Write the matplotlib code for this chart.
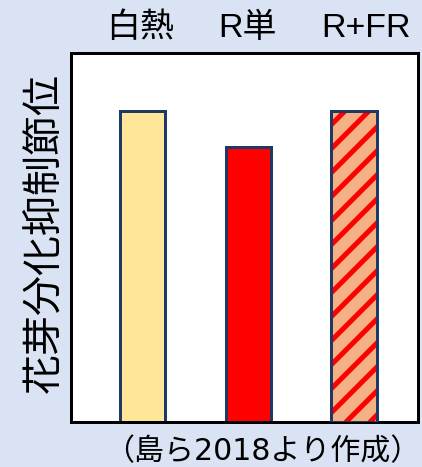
import matplotlib
matplotlib.use("Agg")
import matplotlib.pyplot as plt
from matplotlib.transforms import ScaledTranslation

plt.rcParams['font.family'] = ['Liberation Sans', 'Noto Sans CJK JP', 'DejaVu Sans']
plt.rcParams['hatch.linewidth'] = 5.0

categories = ["白熱", "R単", "R+FR"]
values = [8.44, 7.44, 8.44]
ylabel = "花芽分化抑制節位"
source = "（島ら2018より作成）"

bg = "#DAE3F3"
face_colors = ["#FFE699", "#FF0000", "#F4B183"]
edge_navy = "#1F3864"
label_shift_px = [-2, -1, 12]

DPI = 72
fig = plt.figure(figsize=(422 / DPI, 467 / DPI), dpi=DPI, facecolor=bg)
ax = fig.add_axes([71 / 422, 1 - 422 / 467, (418 - 71) / 422, (422 - 53) / 467])
ax.set_facecolor("white")

x = list(range(len(categories)))
width = 0.43
ax.bar(x[:2], values[:2], width=width, color=face_colors[:2],
       edgecolor=edge_navy, linewidth=3, zorder=2)
ax.bar(x[2], values[2], width=width, color=face_colors[2],
       edgecolor="#FF0000", hatch="/", linewidth=0, zorder=2)
ax.bar(x[2], values[2], width=width, color="none",
       edgecolor=edge_navy, linewidth=3, zorder=3)

ax.set_xlim(-0.676, 2.605)
ax.set_ylim(0, 10)
ax.set_yticks([])
ax.set_xticks(x)
ax.set_xticklabels(categories, fontsize=34)
ax.xaxis.tick_top()
ax.tick_params(axis='x', length=0, pad=9)
for lbl, dx in zip(ax.get_xticklabels(), label_shift_px):
    lbl.set_transform(lbl.get_transform() + ScaledTranslation(dx / DPI, 0, fig.dpi_scale_trans))
for s in ax.spines.values():
    s.set_linewidth(3)
    s.set_color("black")

ax.set_ylabel(ylabel, fontsize=40)
ax.yaxis.set_label_coords(-(71 - 65) / 347, 0.513)

fig.text(262 / 422, 1 - 452 / 467, source, fontsize=30,
         family=['DejaVu Sans', 'Noto Sans CJK JP'],
         ha="center", va="center")

fig.savefig("out.png", dpi=DPI, facecolor=bg)
